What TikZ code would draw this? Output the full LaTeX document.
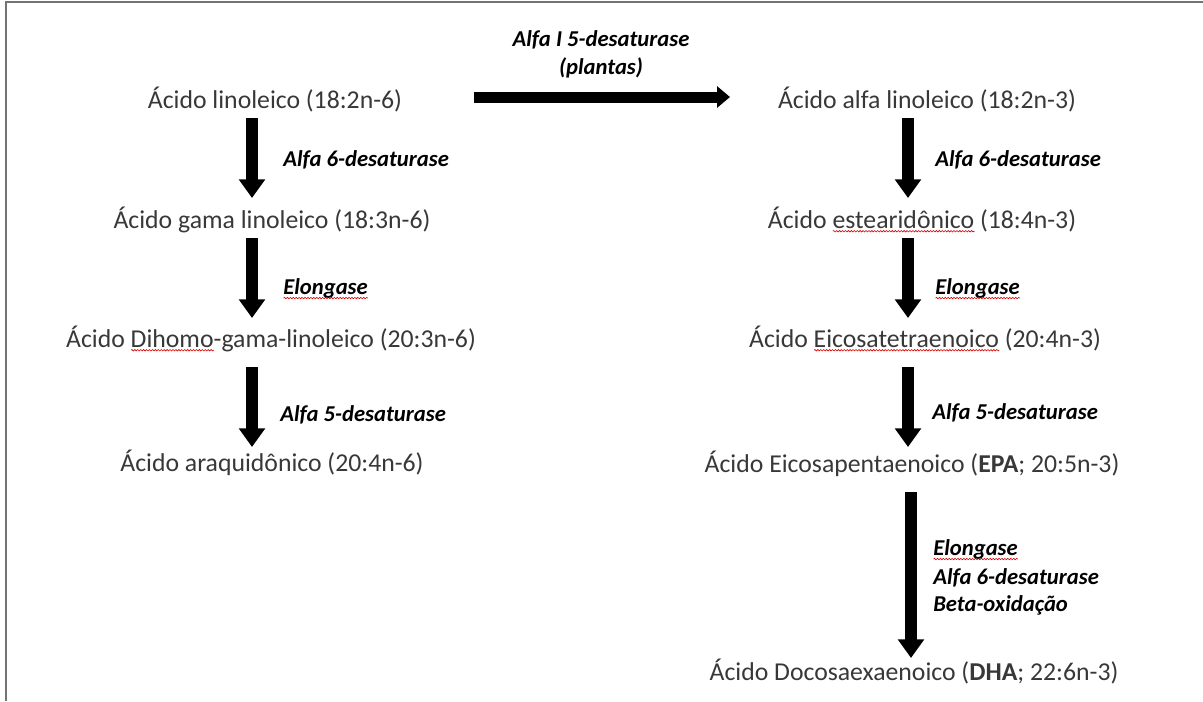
\documentclass[tikz,border=0pt]{standalone}
\usepackage{fontspec}
\setmainfont{Carlito}
\usetikzlibrary{arrows.meta,decorations.pathmorphing}
\newsavebox\wvbox
\newcommand\wavy[1]{\sbox\wvbox{#1}\edef\wvw{\the\wd\wvbox}\rlap{\raisebox{-3.2pt}{\tikz\draw[red!85!black,line width=0.45pt,decorate,decoration={snake,amplitude=0.55pt,segment length=2.2pt}] (0pt,0pt)--(\wvw,0pt);}}\usebox\wvbox}
\tikzset{
  main/.style={font=\fontsize{19.3}{23}\selectfont, text=black!78, inner sep=0pt, anchor=base},
  lab/.style={font=\fontsize{17}{21}\selectfont\bfseries\itshape, inner sep=0pt, anchor=west},
  fat/.style={line width=9pt, -{Triangle[length=14pt,width=19pt]}},
  fath/.style={line width=8.25pt, -{Triangle[length=9.75pt,width=15.75pt]}},
  frame/.style={draw=black!55, line width=1.5pt}
}
\begin{document}
\begin{tikzpicture}[x=0.75pt,y=-0.75pt]
\useasboundingbox (0,0) rectangle (1203,701);
\draw[frame] (6,701) -- (6,2) -- (1203,2);
% left column
\node[main] (L1) at (275,108) {Ácido linoleico (18:2n-6)};
\node[main] (L2) at (272,228) {Ácido gama linoleico (18:3n-6)};
\node[main] (L3) at (271,347) {Ácido \wavy{Dihomo}-gama-linoleico (20:3n-6)};
\node[main] (L4) at (272,471) {Ácido araquidônico (20:4n-6)};
% right column
\node[main] (R1) at (927,108) {Ácido alfa linoleico (18:2n-3)};
\node[main] (R2) at (922,228) {Ácido \wavy{estearidônico} (18:4n-3)};
\node[main] (R3) at (925,347) {Ácido \wavy{Eicosatetraenoico} (20:4n-3)};
\node[main] (R4) at (912,472) {Ácido Eicosapentaenoico (\textbf{EPA}; 20:5n-3)};
\node[main] (R5) at (914,680) {Ácido Docosaexaenoico (\textbf{DHA}; 22:6n-3)};
% arrow end points
\coordinate (h1) at (474,97); \coordinate (h2) at (730,97);
\coordinate (la1) at (252,118); \coordinate (lb1) at (252,198);
\coordinate (la2) at (252,238); \coordinate (lb2) at (252,318);
\coordinate (la3) at (252,367); \coordinate (lb3) at (252,447);
\coordinate (ra1) at (908,118); \coordinate (rb1) at (908,198);
\coordinate (ra2) at (908,238); \coordinate (rb2) at (908,318);
\coordinate (ra3) at (908,367); \coordinate (rb3) at (908,447);
\coordinate (ra4) at (911,492); \coordinate (rb4) at (911,658);
\draw[fath] (h1) -- (h2);
\draw[fat] (la1) -- (lb1);
\draw[fat] (la2) -- (lb2);
\draw[fat] (la3) -- (lb3);
\draw[fat] (ra1) -- (rb1);
\draw[fat] (ra2) -- (rb2);
\draw[fat] (ra3) -- (rb3);
\draw[fat] (ra4) -- (rb4);
% labels
\node[lab, anchor=center] (t1) at (601,40) {Alfa I 5-desaturase};
\node[lab, anchor=center] (t2) at (601,68) {(plantas)};
\node[lab] (e1) at (283,160) {Alfa 6-desaturase};
\node[lab] (e2) at (283,289) {\wavy{Elongase}};
\node[lab] (e3) at (280,415) {Alfa 5-desaturase};
\node[lab] (f1) at (935,160) {Alfa 6-desaturase};
\node[lab] (f2) at (935,289) {\wavy{Elongase}};
\node[lab] (f3) at (932,413) {Alfa 5-desaturase};
\node[lab] (g1) at (933,550) {\wavy{Elongase}};
\node[lab] (g2) at (933,578) {Alfa 6-desaturase};
\node[lab] (g3) at (933,605) {Beta-oxidação};
\end{tikzpicture}
\end{document}
